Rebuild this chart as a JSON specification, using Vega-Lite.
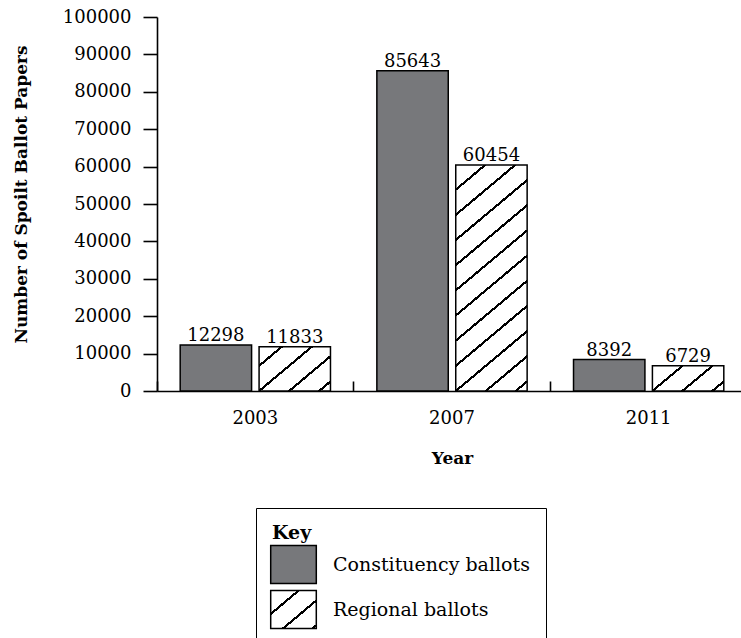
{
  "$schema": "https://vega.github.io/schema/vega-lite/v6.json",
  "width": 590,
  "height": 374,
  "autosize": {"type": "none"},
  "padding": {"left": 157, "top": 17, "right": 0, "bottom": 260},
  "background": "white",
  "title": {
    "text": "Spoilt Ballot Papers",
    "anchor": "start",
    "frame": "group",
    "font": "Liberation Sans",
    "fontSize": 29,
    "fontWeight": "bold",
    "color": "black",
    "baseline": "alphabetic",
    "offset": 9
  },
  "config": {
    "view": {"stroke": null},
    "axis": {"grid": false}
  },
  "data": {
    "values": [
      {"year": "2003", "type": "Constituency ballots", "count": 12298},
      {"year": "2003", "type": "Regional ballots", "count": 11833},
      {"year": "2007", "type": "Constituency ballots", "count": 85643},
      {"year": "2007", "type": "Regional ballots", "count": 60454},
      {"year": "2011", "type": "Constituency ballots", "count": 8392},
      {"year": "2011", "type": "Regional ballots", "count": 6729}
    ]
  },
  "encoding": {
    "x": {
      "field": "year",
      "type": "nominal",
      "scale": {"paddingInner": 0, "paddingOuter": 0},
      "axis": {
        "title": "Year",
        "bandPosition": 0,
        "tickSize": -10,
        "tickWidth": 1.6,
        "tickColor": "black",
        "domainColor": "black",
        "domainWidth": 1.6,
        "labelAngle": 0,
        "labelFont": "DejaVu Serif",
        "labelFontSize": 18,
        "labelColor": "black",
        "labelPadding": 28.6,
        "titleFont": "DejaVu Serif",
        "titleFontSize": 17,
        "titleFontWeight": "bold",
        "titleColor": "black",
        "titlePadding": 23
      }
    },
    "xOffset": {
      "field": "type",
      "type": "nominal",
      "scale": {"paddingInner": 0.095, "paddingOuter": 0.294}
    },
    "y": {
      "field": "count",
      "type": "quantitative",
      "scale": {"domain": [0, 100000], "nice": false},
      "axis": {
        "values": [0, 10000, 20000, 30000, 40000, 50000, 60000, 70000, 80000, 90000, 100000],
        "format": "d",
        "tickSize": 14,
        "tickWidth": 1.6,
        "tickColor": "black",
        "domainColor": "black",
        "domainWidth": 1.6,
        "labelFont": "DejaVu Serif",
        "labelFontSize": 18,
        "labelColor": "black",
        "labelPadding": 12,
        "labelOverlap": false,
        "title": "Number of Spoilt Ballot Papers",
        "titleFont": "DejaVu Serif",
        "titleFontSize": 17,
        "titleFontWeight": "bold",
        "titleColor": "black",
        "titlePadding": 32,
        "titleY": 177
      }
    }
  },
  "layer": [
    {
      "mark": {"type": "bar", "stroke": "black", "strokeWidth": 1.5},
      "encoding": {
        "fill": {
          "field": "type",
          "type": "nominal",
          "scale": {
            "domain": ["Constituency ballots", "Regional ballots"],
            "range": [
              "#77787b",
              {"expr": "{gradient: 'linear', x1: 0, y1: 0, x2: 1.0034, y2: 0.9966, stops: [{offset: 0, color: 'white'}, {offset: 0.2892, color: 'white'}, {offset: 0.2892, color: 'black'}, {offset: 0.3268, color: 'black'}, {offset: 0.3268, color: 'white'}, {offset: 0.6142, color: 'white'}, {offset: 0.6142, color: 'black'}, {offset: 0.6518, color: 'black'}, {offset: 0.6518, color: 'white'}, {offset: 0.9402, color: 'white'}, {offset: 0.9402, color: 'black'}, {offset: 0.9778, color: 'black'}, {offset: 0.9778, color: 'white'}, {offset: 1, color: 'white'}]}"}
            ]
          },
          "condition": [
            {
              "test": "datum.year === '2003' && datum.type === 'Regional ballots'",
              "value": {
                "gradient": "linear", "x1": 0, "y1": 0, "x2": 1.1248, "y2": 0.8311,
                "stops": [
                  {"offset": 0, "color": "white"},
                  {"offset": 0.1695, "color": "white"}, {"offset": 0.1695, "color": "black"}, {"offset": 0.1971, "color": "black"}, {"offset": 0.1971, "color": "white"},
                  {"offset": 0.4111, "color": "white"}, {"offset": 0.4111, "color": "black"}, {"offset": 0.4387, "color": "black"}, {"offset": 0.4387, "color": "white"},
                  {"offset": 0.6528, "color": "white"}, {"offset": 0.6528, "color": "black"}, {"offset": 0.6804, "color": "black"}, {"offset": 0.6804, "color": "white"},
                  {"offset": 0.8944, "color": "white"}, {"offset": 0.8944, "color": "black"}, {"offset": 0.9220, "color": "black"}, {"offset": 0.9220, "color": "white"},
                  {"offset": 1, "color": "white"}
                ]
              }
            },
            {
              "test": "datum.year === '2007' && datum.type === 'Regional ballots'",
              "value": {
                "gradient": "linear", "x1": 0, "y1": 0, "x2": 0.3131, "y2": 1.1820,
                "stops": [
                  {"offset": 0, "color": "white"},
                  {"offset": 0.0815, "color": "white"}, {"offset": 0.0815, "color": "black"}, {"offset": 0.0916, "color": "black"}, {"offset": 0.0916, "color": "white"},
                  {"offset": 0.1695, "color": "white"}, {"offset": 0.1695, "color": "black"}, {"offset": 0.1796, "color": "black"}, {"offset": 0.1796, "color": "white"},
                  {"offset": 0.2575, "color": "white"}, {"offset": 0.2575, "color": "black"}, {"offset": 0.2676, "color": "black"}, {"offset": 0.2676, "color": "white"},
                  {"offset": 0.3455, "color": "white"}, {"offset": 0.3455, "color": "black"}, {"offset": 0.3556, "color": "black"}, {"offset": 0.3556, "color": "white"},
                  {"offset": 0.4335, "color": "white"}, {"offset": 0.4335, "color": "black"}, {"offset": 0.4436, "color": "black"}, {"offset": 0.4436, "color": "white"},
                  {"offset": 0.5215, "color": "white"}, {"offset": 0.5215, "color": "black"}, {"offset": 0.5316, "color": "black"}, {"offset": 0.5316, "color": "white"},
                  {"offset": 0.6095, "color": "white"}, {"offset": 0.6095, "color": "black"}, {"offset": 0.6196, "color": "black"}, {"offset": 0.6196, "color": "white"},
                  {"offset": 0.6975, "color": "white"}, {"offset": 0.6975, "color": "black"}, {"offset": 0.7076, "color": "black"}, {"offset": 0.7076, "color": "white"},
                  {"offset": 0.7855, "color": "white"}, {"offset": 0.7855, "color": "black"}, {"offset": 0.7956, "color": "black"}, {"offset": 0.7956, "color": "white"},
                  {"offset": 0.8735, "color": "white"}, {"offset": 0.8735, "color": "black"}, {"offset": 0.8836, "color": "black"}, {"offset": 0.8836, "color": "white"},
                  {"offset": 0.9616, "color": "white"}, {"offset": 0.9616, "color": "black"}, {"offset": 0.9716, "color": "black"}, {"offset": 0.9716, "color": "white"},
                  {"offset": 1, "color": "white"}
                ]
              }
            },
            {
              "test": "datum.year === '2011' && datum.type === 'Regional ballots'",
              "value": {
                "gradient": "linear", "x1": 0, "y1": 0, "x2": 1.2071, "y2": 0.5072,
                "stops": [
                  {"offset": 0, "color": "white"},
                  {"offset": 0.2790, "color": "white"}, {"offset": 0.2790, "color": "black"}, {"offset": 0.3127, "color": "black"}, {"offset": 0.3127, "color": "white"},
                  {"offset": 0.5749, "color": "white"}, {"offset": 0.5749, "color": "black"}, {"offset": 0.6086, "color": "black"}, {"offset": 0.6086, "color": "white"},
                  {"offset": 0.8708, "color": "white"}, {"offset": 0.8708, "color": "black"}, {"offset": 0.9045, "color": "black"}, {"offset": 0.9045, "color": "white"},
                  {"offset": 1, "color": "white"}
                ]
              }
            }
          ],
          "legend": {
            "orient": "none",
            "legendX": 99,
            "legendY": 491,
            "direction": "vertical",
            "title": "Key",
            "titleFont": "DejaVu Serif",
            "titleFontSize": 19,
            "titleFontWeight": "bold",
            "titleColor": "black",
            "titlePadding": 0,
            "labelFont": "DejaVu Serif",
            "labelFontSize": 19,
            "labelColor": "black",
            "labelOffset": 18,
            "labelLimit": 400,
            "symbolType": "M-1.0988,-0.9157H1.0988V0.9157H-1.0988Z",
            "symbolSize": 1722,
            "rowPadding": 0,
            "padding": 16,
            "strokeColor": "black",
            "encode": {
              "legend": {"update": {"strokeWidth": {"value": 1.5}}},
              "symbols": {
                "update": {
                  "stroke": {"value": "black"},
                  "strokeWidth": {"value": 1.5},
                  "opacity": {"value": 1}
                }
              }
            }
          }
        }
      }
    },
    {
      "mark": {
        "type": "text",
        "baseline": "alphabetic",
        "dy": -4,
        "font": "DejaVu Serif",
        "fontSize": 18,
        "color": "black"
      },
      "encoding": {
        "text": {"field": "count", "type": "quantitative", "format": "d"}
      }
    }
  ]
}
